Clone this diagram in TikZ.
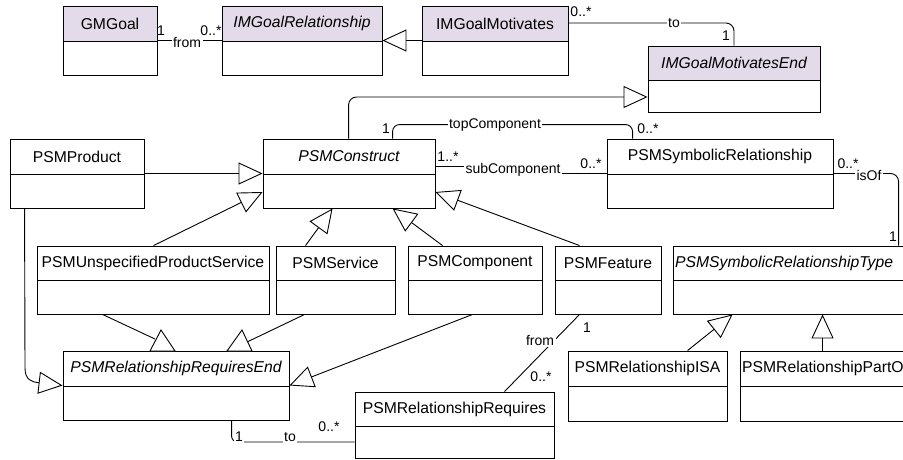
\documentclass[tikz,border=0pt]{standalone}
\usepackage{fontspec}
\setmainfont{Liberation Sans}
\usetikzlibrary{arrows.meta,fit}
\definecolor{lav}{RGB}{227,219,233}
\tikzset{
  ln/.style={line width=0.9pt, draw=black},
  gen/.style={ln, -{Triangle[open, length=24pt, width=22pt, line width=0.9pt]}},
  clsbox/.style={draw=black, line width=0.9pt, inner sep=0pt},
  cname/.style={font=\fontsize{15.7}{18}\selectfont, inner sep=0pt},
  lbl/.style={font=\fontsize{14}{16}\selectfont, inner sep=1pt},
  role/.style={lbl, fill=white, inner sep=1.5pt},
}
\newcommand\umlcls[8]{%
  \fill[#7] (#2,#3) rectangle (#4,#5);
  \node[clsbox, fit={(#2,#3) (#4,#6)}] (#1) {};
  \draw[ln] (#2,#5) -- (#4,#5);
  \node[cname] (#1-t) at ({(#2+#4)/2},{(#3+#5)/2}) {#8};
}
\begin{document}
\begin{tikzpicture}[x=1pt,y=-1pt]
\useasboundingbox (0,0) rectangle (903,459);

% classes
\umlcls{gm}{63}{6}{157}{41}{75}{lav}{GMGoal}
\umlcls{imr}{222}{6}{382}{41}{75}{lav}{\itshape IMGoalRelationship}
\umlcls{imm}{422}{6}{568}{41}{75}{lav}{IMGoalMotivates}
\umlcls{imme}{648}{46}{820}{80}{112}{lav}{\itshape IMGoalMotivatesEnd}
\umlcls{psp}{10}{139}{144}{174}{208}{white}{PSMProduct}
\umlcls{psc}{263}{139}{435}{174}{208}{white}{\itshape PSMConstruct}
\umlcls{psr}{607}{139}{833}{174}{208}{white}{PSMSymbolicRelationship}
\umlcls{pups}{37}{246}{269}{280}{314}{white}{PSMUnspecifiedProductService}
\umlcls{pss}{276}{246}{395}{280}{314}{white}{PSMService}
\umlcls{pcomp}{408}{246}{542}{280}{314}{white}{PSMComponent}
\umlcls{psf}{555}{246}{661}{280}{314}{white}{PSMFeature}
\umlcls{psrt}{673}{246}{940}{280}{314}{white}{}
\node[cname, anchor=west] (psrt-n) at (675,263) {\itshape PSMSymbolicRelationshipType};
\umlcls{prre}{63}{351}{289}{386}{420}{white}{\itshape PSMRelationshipRequiresEnd}
\umlcls{prr}{355}{392}{554}{426}{458}{white}{PSMRelationshipRequires}
\umlcls{pisa}{568}{351}{727}{386}{421}{white}{PSMRelationshipISA}
\umlcls{ppo}{740}{351}{940}{386}{421}{white}{}
\node[cname, anchor=west] (ppo-n) at (742,368.5) {PSMRelationshipPartOf};

% top associations
\draw[ln] (gm.east) -- (imr.west);
\node[lbl] (l1) at (161,31) {1};
\node[role] (l2) at (187,42) {from};
\node[lbl] (l3) at (211,31) {0..*};

\draw[gen] (imm.west) -- (imr.east);

\draw[ln, rounded corners=8pt] ([yshift=17.5pt]imm.east) -| (imme.north);
\node[lbl] (l4) at (581,12) {0..*};
\node[role] (l5) at (674,23) {to};
\node[lbl] (l6) at (726,36) {1};

\draw[gen, rounded corners=8pt] ([xshift=86pt]psc.north west) |- ([yshift=-18pt]imme.west);

% topComponent
\draw[ln, rounded corners=7pt] ([xshift=130pt]psc.north west) -- ++(0,-14) -| ([xshift=26pt]psr.north west);
\node[lbl] (l7) at (386,129) {1};
\node[role] (l8) at (495,125) {topComponent};
\node[lbl] (l9) at (648,129) {0..*};

% subComponent
\draw[ln] ([yshift=7pt]psc.east) -- (513,166.5) -- (513,173.5) -- (psr.west);
\node[lbl] (l10) at (448,157) {1..*};
\node[role] (l11) at (513,170) {subComponent};
\node[lbl] (l12) at (591,164) {0..*};

% isOf
\draw[ln, rounded corners=8pt] (psr.east) -| ([xshift=226pt]psrt.north west);
\node[lbl] (l13) at (848,164) {0..*};
\node[role] (l14) at (869,175) {isOf};
\node[lbl] (l15) at (893,237) {1};

% generalizations to PSMConstruct
\draw[gen] (psp.east) -- (psc.west);
\draw[gen] ([xshift=117pt]pups.north west) -- ([yshift=-18.5pt]psc.west);
\draw[gen] ([xshift=30pt]pss.north west) -- ([xshift=70pt]psc.south west);
\draw[gen] ([xshift=35pt]pcomp.north west) -- ([xshift=130pt]psc.south west);
\draw[gen] ([xshift=25pt]psf.north west) -- ([yshift=-18.5pt]psc.east);

% generalizations to PSMRelationshipRequiresEnd
\draw[gen] ([xshift=15pt]psp.south west) -- (25,368) .. controls (25,380) and (32,382) .. (prre.west);
\coordinate (t1) at (155,339);
\draw[ln] ([xshift=66pt]pups.south west) -- (t1);
\draw[ln, fill=white] (150,351) -- (161,330) -- (175,351) -- cycle;
\coordinate (t2) at (247,342);
\draw[ln] ([xshift=29pt]pss.south west) -- (t2);
\draw[ln, fill=white] (227,351) -- (242,330) -- (252,351) -- cycle;
\draw[gen] ([xshift=65pt]pcomp.south west) -- (prre.east);

% from / to associations
\draw[ln] ([xshift=25pt]psf.south west) -- ([xshift=150pt]prr.north west);
\node[role] (l16) at (540,340) {from};
\node[lbl] (l17) at (587,328) {1};
\node[lbl] (l18) at (541,377) {0..*};

\draw[ln, rounded corners=6pt] ([xshift=169pt]prre.south west) |- ([yshift=-17pt]prr.west);
\node[role] (l19) at (239,437) {1};
\node[role] (l20) at (290,437) {to};
\node[lbl] (l21) at (329,427) {0..*};

% generalizations to PSMSymbolicRelationshipType
\draw[gen] ([xshift=120pt]pisa.north west) -- ([xshift=60pt]psrt.south west);
\draw[gen] ([xshift=83pt]ppo.north west) -- ([xshift=150pt]psrt.south west);
\end{tikzpicture}
\end{document}
